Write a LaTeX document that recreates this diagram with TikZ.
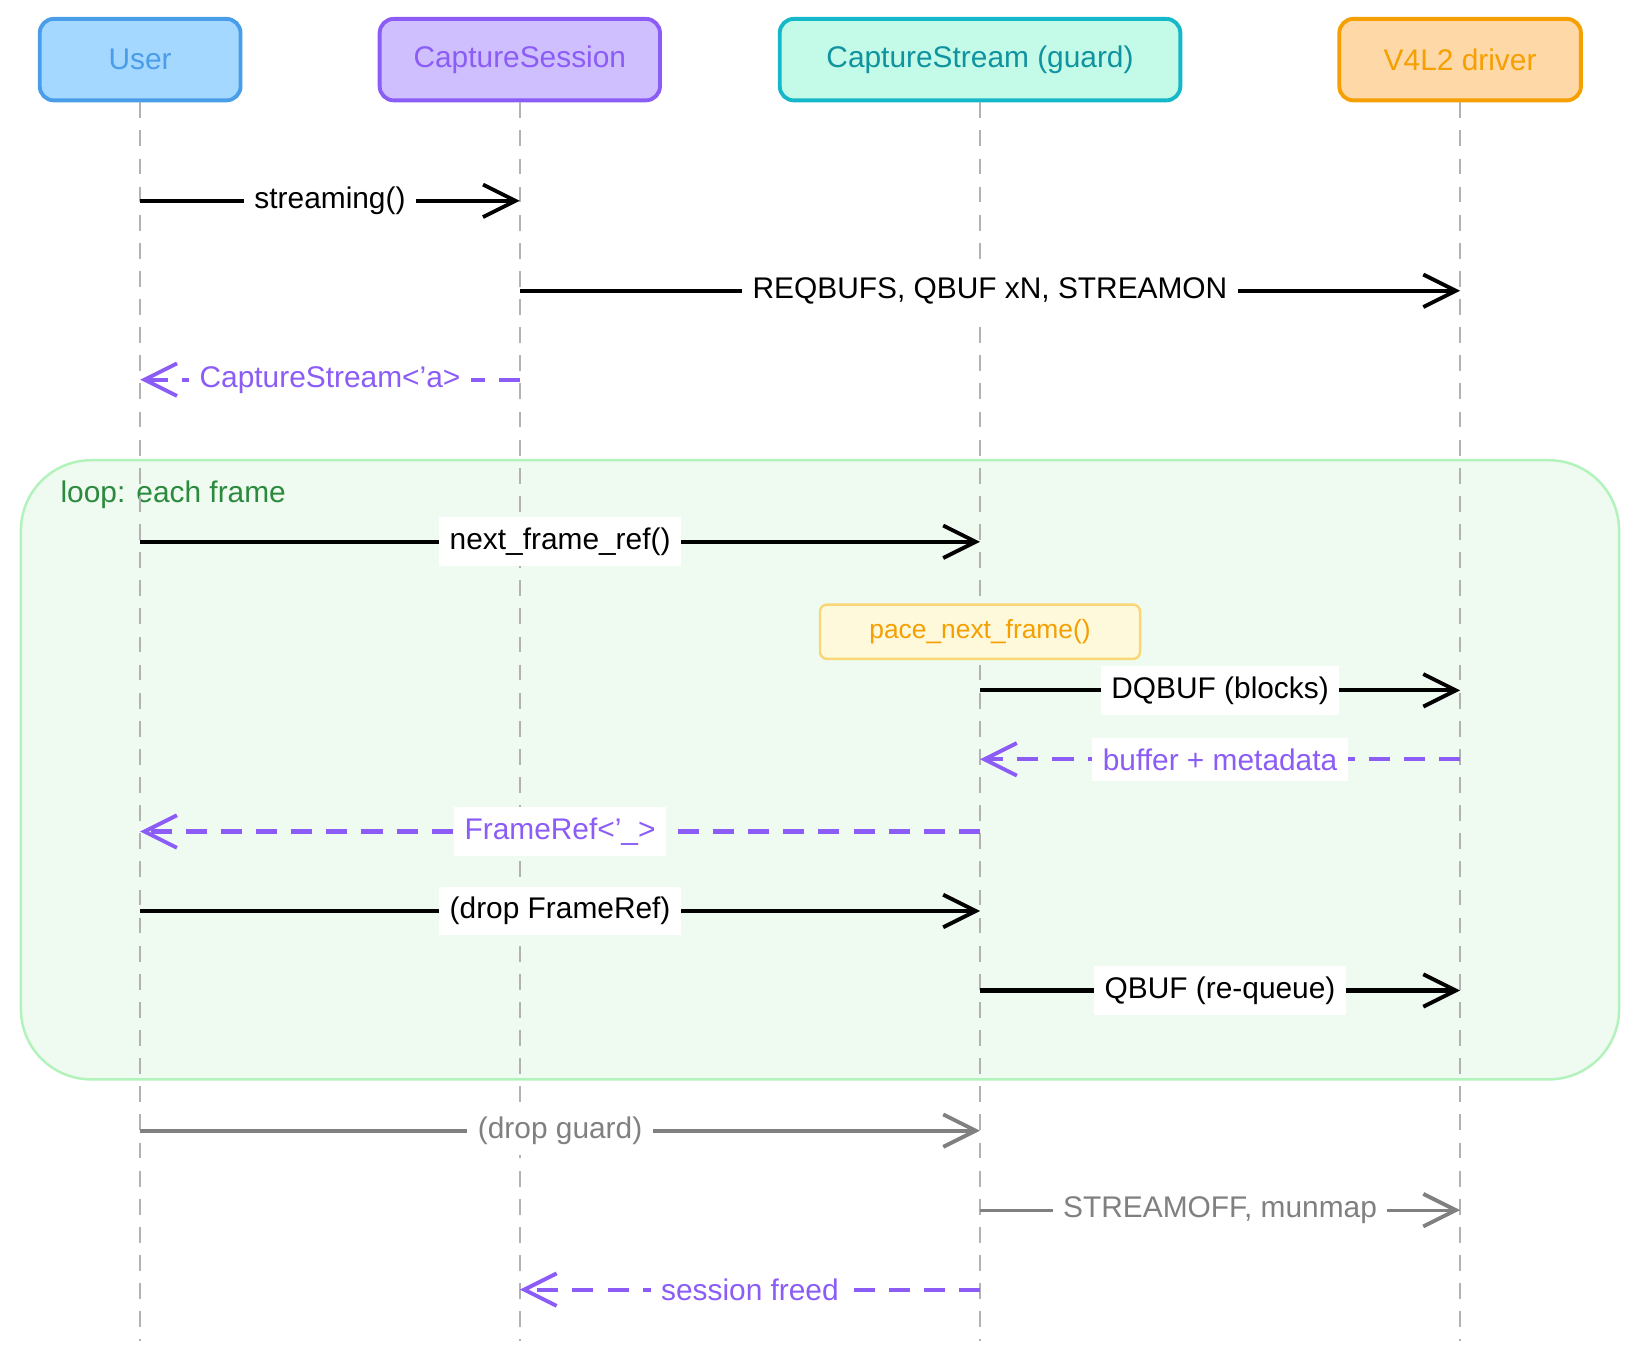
\documentclass[tikz,border=0pt]{standalone}
\usepackage{fontspec}
\setmainfont{Liberation Sans}
\usetikzlibrary{arrows.meta}
\definecolor{usrfill}{HTML}{A5D8FF}\definecolor{usrdraw}{HTML}{4A9DE8}
\definecolor{sesfill}{HTML}{D0BFFF}\definecolor{sesdraw}{HTML}{8B5CF6}
\definecolor{strfill}{HTML}{C3FAE8}\definecolor{strdraw}{HTML}{14B8C8}
\definecolor{drvfill}{HTML}{FFD8A8}\definecolor{drvdraw}{HTML}{F59F00}
\definecolor{loopfill}{HTML}{EFFBF0}\definecolor{loopdraw}{HTML}{B2F2BB}
\definecolor{loopText}{HTML}{2B8A3E}
\definecolor{notefill}{HTML}{FFF9DB}\definecolor{notedraw}{HTML}{FAD776}
\definecolor{retcol}{HTML}{8B5CF6}
\tikzset{
  head/.style={draw, line width=2.2pt, rounded corners=8pt, minimum height=1.63cm, inner sep=0pt, font=\fontsize{17}{20}\selectfont},
  life/.style={gray!60, line width=1.3pt, dash pattern=on 9pt off 7pt},
  msg/.style={line width=2.4pt, -{Straight Barb[length=6.5mm,width=6.5mm,line width=2.2pt]}},
  ret/.style={msg, retcol, dash pattern=on 12pt off 8pt},
  lbl/.style={fill=white, inner sep=6pt, font=\fontsize{17}{20}\selectfont}
}
\newcommand{\mx}[1]{0.02092cm*#1}
\begin{document}
\begin{tikzpicture}[x=0.02092cm, y=-0.02092cm]
\useasboundingbox (0,0) rectangle (1568,1299);
% loop frame
\draw[loopdraw, fill=loopfill, line width=1.4pt, rounded corners=40pt] (20,440) rectangle (1548,1032);
\node[anchor=west, text=loopText, font=\fontsize{17}{20}\selectfont] (looplbl) at (52,473) {loop: each frame};
% participants
\node[head, fill=usrfill, draw=usrdraw, text=usrdraw, minimum width=\mx{192}] (user) at (134,57) {User};
\node[head, fill=sesfill, draw=sesdraw, text=sesdraw, minimum width=\mx{268}] (sess) at (497,57) {CaptureSession};
\node[head, fill=strfill, draw=strdraw, text=strdraw!80!black, minimum width=\mx{383}] (strm) at (937,57) {CaptureStream (guard)};
\node[head, fill=drvfill, draw=drvdraw, text=drvdraw, minimum width=\mx{231}] (drv) at (1396,57) {V4L2 driver};
% lifelines
\foreach \p in {user,sess,strm,drv}
  \draw[life] (\p.south) -- (\p |- 0,1282) coordinate (\p-end);
% messages
\foreach \n/\y in {m1/192,m2/278,m3/363,m4/518,m5/660,m6/726,m7/795,m8/871,m9/947,m10/1081,m11/1157,m12/1233}
  \coordinate (\n) at (0,\y);
\draw[msg] (user |- m1) -- node[lbl]{streaming()} (sess |- m1);
\draw[msg] (sess |- m2) -- node[lbl]{REQBUFS, QBUF xN, STREAMON} (drv |- m2);
\draw[ret] (sess |- m3) -- node[lbl, text=retcol]{CaptureStream<'a>} (user |- m3);
\draw[msg] (user |- m4) -- node[lbl]{next\_frame\_ref()} (strm |- m4);
\node[draw=notedraw, fill=notefill, line width=1.4pt, rounded corners=4pt, minimum width=\mx{306}, minimum height=\mx{52}, text=drvdraw, font=\fontsize{15}{18}\selectfont] (pace) at (937,604) {pace\_next\_frame()};
\draw[msg] (strm |- m5) -- node[lbl, pos=0.5]{DQBUF (blocks)} (drv |- m5);
\draw[ret] (drv |- m6) -- node[lbl, text=retcol]{buffer + metadata} (strm |- m6);
\draw[ret] (strm |- m7) -- node[lbl, text=retcol]{FrameRef<'\_>} (user |- m7);
\draw[msg] (user |- m8) -- node[lbl]{(drop FrameRef)} (strm |- m8);
\draw[msg] (strm |- m9) -- node[lbl]{QBUF (re-queue)} (drv |- m9);
\draw[msg, gray] (user |- m10) -- node[lbl, text=gray]{(drop guard)} (strm |- m10);
\draw[msg, gray, line width=1.8pt] (strm |- m11) -- node[lbl, text=gray]{STREAMOFF, munmap} (drv |- m11);
\draw[ret] (strm |- m12) -- node[lbl, text=retcol]{session freed} (sess |- m12);
\end{tikzpicture}
\end{document}
